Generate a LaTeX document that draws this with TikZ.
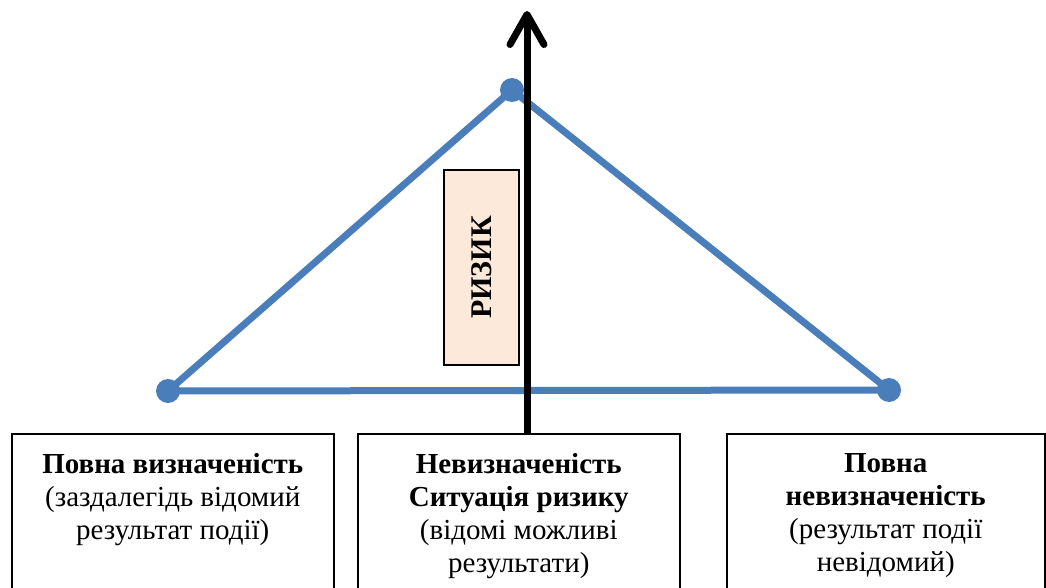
\documentclass[tikz,border=0pt]{standalone}
\usepackage{fontspec}
\setmainfont{Liberation Serif}
\usepackage{xcolor}
\usetikzlibrary{arrows.meta}
\definecolor{triblue}{HTML}{4A7EBB}
\definecolor{riskfill}{HTML}{FDE9D9}
\tikzstyle{every node}=[font=\fontsize{29}{33}\selectfont]
\tikzstyle{box} = [rectangle, draw, line width=1.5pt, minimum width=322pt, minimum height=180pt, anchor=north west, inner sep=0pt]
\tikzstyle{boxtext} = [align=center, anchor=north, inner sep=0pt, yshift=-20pt]
\tikzstyle{vertex} = [circle, fill=triblue, minimum size=24pt, inner sep=0pt]
\tikzstyle{side} = [draw=triblue, line width=7pt, line join=round]
\tikzstyle{riskbox} = [rectangle, draw, line width=1.5pt, fill=riskfill, rotate=90, minimum width=195pt, minimum height=75pt, font=\fontsize{30}{34}\selectfont\bfseries]
\tikzstyle{axis} = [draw, line width=7pt, -{Straight Barb[round, length=30pt, width=34pt]}]

\begin{document}
\begin{tikzpicture}[x=1pt, y=-1pt]
    \useasboundingbox (0,0) rectangle (1046,588);
    % Place nodes
    \node [box, label={[boxtext]north:{\textbf{Повна визначеність}\\(заздалегідь відомий\\результат події)}}] (certain) at (11,433) {};
    \node [box, label={[boxtext]north:{\textbf{Невизначеність}\\\textbf{Ситуація ризику}\\(відомі можливі\\результати)}}] (risky) at (357,433) {};
    \node [box, minimum width=318pt, label={[boxtext]north:{\textbf{Повна}\\\textbf{невизначеність}\\(результат події\\невідомий)}}] (uncertain) at (726,433) {};
    \node [vertex] (left) at (168,391) {};
    \node [vertex] (peak) at (512,90) {};
    \node [vertex] (right) at (889,390) {};
    \node [riskbox] (risk) at (481.5,267.5) {РИЗИК};
    \coordinate (up) at (527,11);
    % Draw edges
    \path [side] (left.center) -- (peak.center) -- (right.center) -- cycle;
    \path [axis] (up |- risky.north) -- (up);
\end{tikzpicture}
\end{document}
